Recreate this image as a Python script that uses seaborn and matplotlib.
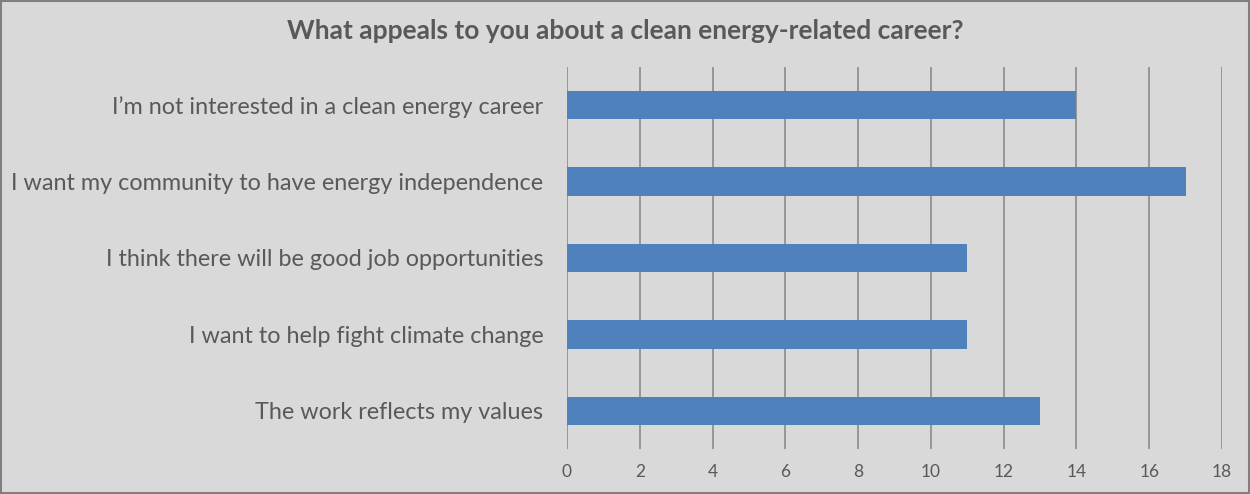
import matplotlib
matplotlib.use("Agg")
import matplotlib.pyplot as plt
import seaborn as sns
import pandas as pd

reasons = [
    "I\u2019m not interested in a clean energy career",
    "I want my community to have energy independence",
    "I think there will be good job opportunities",
    "I want to help fight climate change",
    "The work reflects my values",
]
counts = [14, 17, 11, 11, 13]
x_ticks = [0, 2, 4, 6, 8, 10, 12, 14, 16, 18]

df = pd.DataFrame({"reason": reasons, "count": counts})

bg = "#D9D9D9"
text_color = "#595959"
grid_color = "#8C8C8C"
bar_color = "#4F81BD"

sns.set_theme(style="white")
plt.rcParams["font.family"] = ["Lato", "DejaVu Sans"]

fig = plt.figure(figsize=(12.5, 4.94), dpi=100, facecolor=bg)
ax = fig.add_axes([0.4536, 0.0911, 0.524, 0.7733])
ax.set_facecolor(bg)

sns.barplot(data=df, y="reason", x="count", orient="h", color=bar_color,
            saturation=1, width=0.37, linewidth=0, edgecolor="none", ax=ax)

ax.set_xlim(0, 18)
ax.set_xticks(x_ticks)
ax.set_xticklabels([str(t) for t in x_ticks])
ax.xaxis.grid(True, color=grid_color, linewidth=1.2)
ax.yaxis.grid(False)
ax.set_axisbelow(True)
for s in ax.spines.values():
    s.set_visible(False)
ax.tick_params(axis="x", length=0, pad=11, labelsize=12.5, labelcolor=text_color)
ax.tick_params(axis="y", length=0, pad=17, labelsize=16.8, labelcolor=text_color)
ax.set_xlabel("")
ax.set_ylabel("")

fig.text(0.5, 0.937, "What appeals to you about a clean energy-related career?",
         ha="center", va="center", fontsize=19, fontweight="bold", color=text_color)

# Outer border of the chart area
border = plt.Rectangle((0.0008, 0.002), 0.9984, 0.996, transform=fig.transFigure,
                       fill=False, edgecolor="#7F7F7F", linewidth=1.5)
fig.patches.append(border)

fig.savefig("out.png", dpi=100, facecolor=bg)
